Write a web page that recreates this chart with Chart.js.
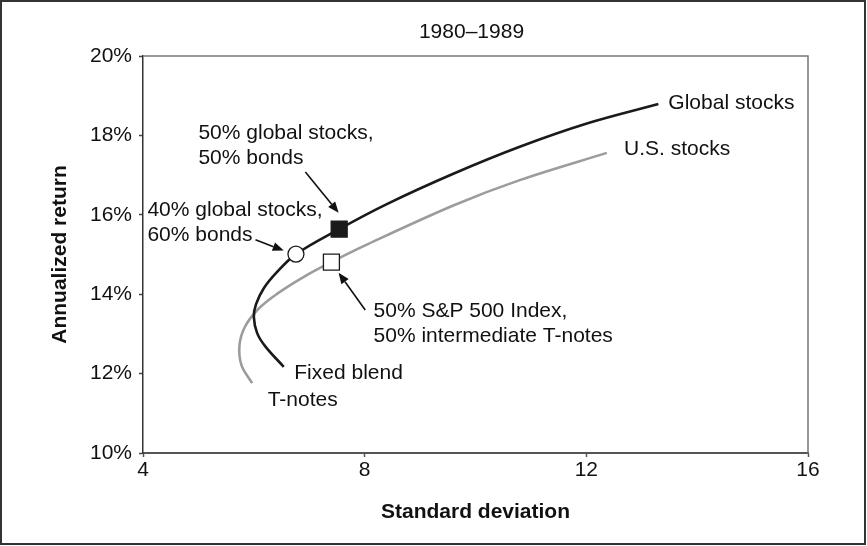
<!DOCTYPE html>
<html>
<head>
<meta charset="utf-8">
<title>1980–1989</title>
<script src="https://cdn.jsdelivr.net/npm/chart.js@4.4.1/dist/chart.umd.min.js"></script>
<style>
  html, body { margin: 0; padding: 0; background: #fff; }
  #wrap { width: 867px; height: 546px; position: relative; }
</style>
</head>
<body>
<div id="wrap"><canvas id="riskChart"></canvas></div>
<script>
// Risk / return curves, 1980-1989
var globalSd  = [6.54, 6.21, 6.06, 6.00, 6.04, 6.18, 6.42, 6.76, 7.54, 8.40, 9.61, 10.81, 12.01, 13.30];
var globalRet = [12.17, 12.68, 13.02, 13.43, 13.75, 14.15, 14.56, 15.01, 15.64, 16.27, 17.04, 17.72, 18.30, 18.79];

var usSd  = [5.97, 5.78, 5.74, 5.84, 6.09, 6.43, 6.88, 7.40, 8.01, 9.61, 10.81, 12.37];
var usRet = [11.76, 12.20, 12.70, 13.18, 13.64, 14.02, 14.42, 14.81, 15.23, 16.24, 16.88, 17.56];

// marked portfolios
var markerNames = ['40% global stocks, 60% bonds', '50% global stocks, 50% bonds', '50% S&P 500 Index, 50% intermediate T-notes'];
var markerSd  = [6.76, 7.54, 7.40];
var markerRet = [15.01, 15.64, 14.81];

var xTicks = [4, 8, 12, 16];
var yTicks = [10, 12, 14, 16, 18, 20];

var FONT = "'Liberation Sans', Arial, Helvetica, sans-serif";
var INK = '#111';

function toPoints(xs, ys) {
    return xs.map(function(x, i) { return { x: x, y: ys[i] }; });
}

// text notes and arrows, placed in data units
var notes = [
    { lines: ['50% global stocks,', '50% bonds'], sd: 5.00, ret: 18.05 },
    { lines: ['40% global stocks,', '60% bonds'], sd: 4.08, ret: 16.12 },
    { lines: ['50% S&P 500 Index,', '50% intermediate T-notes'], sd: 8.16, ret: 13.58 },
    { lines: ['Fixed blend'], sd: 6.73, ret: 12.02 },
    { lines: ['T-notes'], sd: 6.25, ret: 11.33 },
    { lines: ['Global stocks'], sd: 13.48, ret: 18.82 },
    { lines: ['U.S. stocks'], sd: 12.68, ret: 17.66 }
];
var arrows = [
    { from: [6.93, 17.08], to: [7.53, 16.05] },
    { from: [6.03, 15.37], to: [6.54, 15.10] },
    { from: [8.01, 13.60], to: [7.53, 14.54] }
];

var decorPlugin = {
    id: 'decor',
    beforeDraw: function(chart) {
        var ctx = chart.ctx;
        ctx.save();
        ctx.fillStyle = '#fff';
        ctx.fillRect(0, 0, chart.width, chart.height);
        ctx.restore();
    },
    afterDraw: function(chart) {
        var ctx = chart.ctx;
        var area = chart.chartArea;
        var xs = chart.scales.x, ys = chart.scales.y;
        ctx.save();

        // top + right frame
        ctx.strokeStyle = '#777';
        ctx.lineWidth = 1.5;
        ctx.beginPath();
        ctx.moveTo(area.left, area.top);
        ctx.lineTo(area.right, area.top);
        ctx.lineTo(area.right, area.bottom);
        ctx.stroke();

        // outer border
        ctx.strokeStyle = '#333';
        ctx.lineWidth = 2;
        ctx.strokeRect(1, 1, chart.width - 3, chart.height - 3);

        // title
        ctx.fillStyle = INK;
        ctx.font = '21px ' + FONT;
        ctx.textAlign = 'center';
        ctx.textBaseline = 'middle';
        ctx.fillText('1980–1989', (area.left + area.right) / 2 - 4, area.top - 24);

        // notes
        ctx.textAlign = 'left';
        notes.forEach(function(n) {
            var px = xs.getPixelForValue(n.sd);
            var py = ys.getPixelForValue(n.ret);
            n.lines.forEach(function(line, i) {
                ctx.fillText(line, px, py + i * 25);
            });
        });

        // arrows
        ctx.strokeStyle = INK;
        ctx.lineWidth = 1.6;
        arrows.forEach(function(a) {
            var x1 = xs.getPixelForValue(a.from[0]), y1 = ys.getPixelForValue(a.from[1]);
            var x2 = xs.getPixelForValue(a.to[0]), y2 = ys.getPixelForValue(a.to[1]);
            var ang = Math.atan2(y2 - y1, x2 - x1);
            var head = 11, half = 4.5;
            var bx = x2 - head * Math.cos(ang), by = y2 - head * Math.sin(ang);
            ctx.beginPath();
            ctx.moveTo(x1, y1);
            ctx.lineTo(bx, by);
            ctx.stroke();
            ctx.beginPath();
            ctx.moveTo(x2, y2);
            ctx.lineTo(bx + half * Math.sin(ang), by - half * Math.cos(ang));
            ctx.lineTo(bx - half * Math.sin(ang), by + half * Math.cos(ang));
            ctx.closePath();
            ctx.fill();
        });
        ctx.restore();
    }
};

document.addEventListener('DOMContentLoaded', function() {
    var ctx = document.getElementById('riskChart').getContext('2d');

    var riskChart = new Chart(ctx, {
        type: 'scatter',
        data: {
            datasets: [
                {
                    label: 'Portfolios',
                    data: toPoints(markerSd, markerRet),
                    pointStyle: ['circle', 'rect', 'rect'],
                    pointRadius: [8, 11.3, 11.3],
                    pointBackgroundColor: ['#fff', '#1a1a1a', '#fff'],
                    pointBorderColor: '#1a1a1a',
                    pointBorderWidth: 1.3,
                    showLine: false
                },
                {
                    label: 'Global stocks',
                    data: toPoints(globalSd, globalRet),
                    showLine: true,
                    borderColor: '#1a1a1a',
                    borderWidth: 2.6,
                    pointRadius: 0,
                    tension: 0.35
                },
                {
                    label: 'U.S. stocks',
                    data: toPoints(usSd, usRet),
                    showLine: true,
                    borderColor: '#9c9c9c',
                    borderWidth: 2.6,
                    pointRadius: 0,
                    tension: 0.35
                }
            ]
        },
        options: {
            responsive: true,
            maintainAspectRatio: false,
            animation: false,
            devicePixelRatio: 1,
            layout: { padding: { top: 56, right: 59, left: 0, bottom: 0 } },
            plugins: {
                legend: { display: false },
                tooltip: { enabled: false },
                title: { display: false }
            },
            scales: {
                x: {
                    type: 'linear',
                    min: xTicks[0],
                    max: xTicks[xTicks.length - 1],
                    afterBuildTicks: function(s) { s.ticks = xTicks.map(function(v) { return { value: v }; }); },
                    afterFit: function(s) { s.height = 93; },
                    ticks: { color: INK, font: { family: FONT, size: 21 }, padding: 1 },
                    grid: { drawOnChartArea: false, tickLength: 4, color: '#555', tickWidth: 1.5 },
                    border: { color: '#555', width: 2 },
                    title: {
                        display: true,
                        text: 'Standard deviation',
                        color: INK,
                        font: { family: FONT, size: 21, weight: 'bold' },
                        padding: { top: 0, bottom: 21 }
                    }
                },
                y: {
                    type: 'linear',
                    min: yTicks[0],
                    max: yTicks[yTicks.length - 1],
                    afterBuildTicks: function(s) { s.ticks = yTicks.map(function(v) { return { value: v }; }); },
                    afterFit: function(s) { s.width = 143; },
                    ticks: {
                        color: INK,
                        font: { family: FONT, size: 21 },
                        padding: 7,
                        callback: function(v) { return v + '%'; }
                    },
                    grid: { drawOnChartArea: false, tickLength: 4, color: '#444', tickWidth: 1.5 },
                    border: { color: '#333', width: 1.5 },
                    title: {
                        display: true,
                        text: 'Annualized return',
                        color: INK,
                        font: { family: FONT, size: 21, weight: 'bold' },
                        padding: { top: 48, bottom: 0 }
                    }
                }
            }
        },
        plugins: [decorPlugin]
    });
});
</script>
</body>
</html>
